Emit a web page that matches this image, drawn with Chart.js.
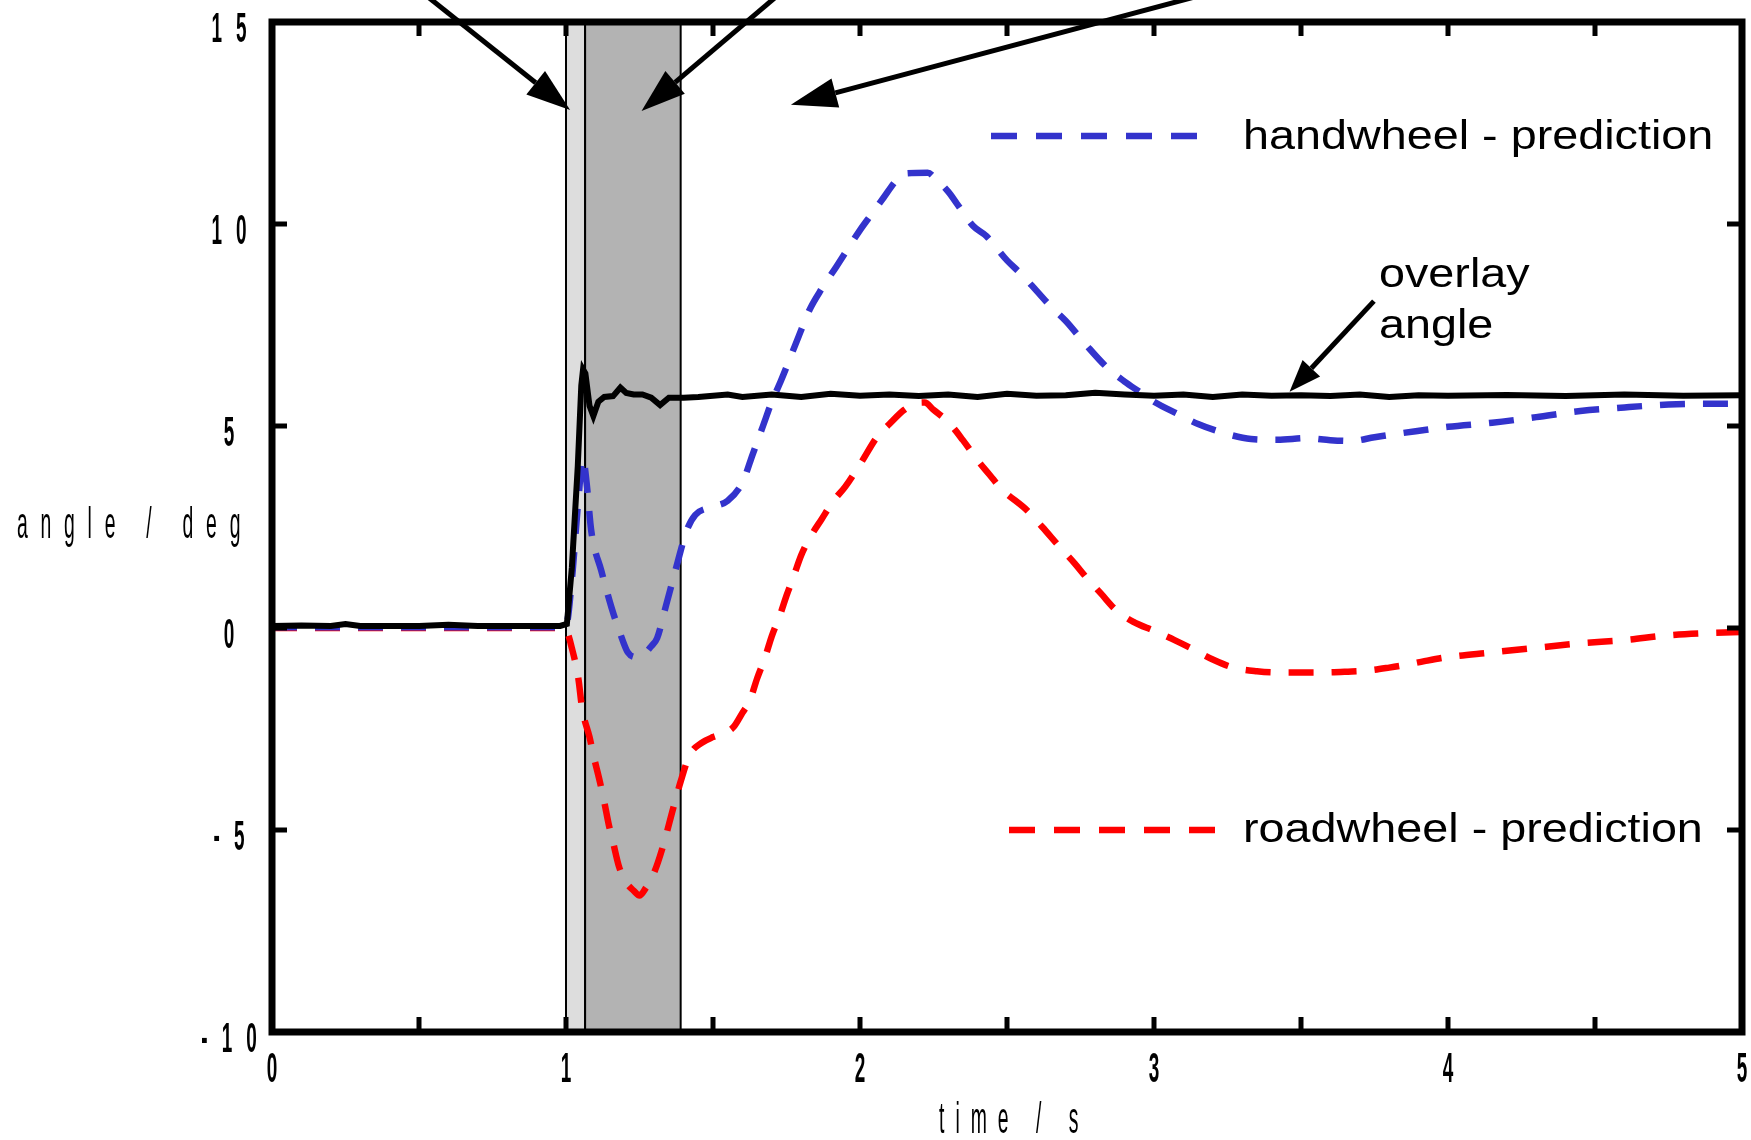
<!DOCTYPE html>
<html>
<head>
<meta charset="utf-8">
<title>angle / deg</title>
<script src="https://cdn.jsdelivr.net/npm/chart.js@4.4.1/dist/chart.umd.min.js"></script>
<style>
  html, body { margin: 0; padding: 0; background: #fff; overflow: hidden; }
  canvas { display: block; }
</style>
</head>
<body>
<canvas id="grafico" width="1751" height="1140"></canvas>
<script>
// Values (time in s, angle in deg)
const overlayTime  = [0, 0.1, 0.2, 0.25, 0.3, 0.4, 0.5, 0.6, 0.7, 0.8, 0.9, 0.98, 1.003, 1.02, 1.04, 1.052, 1.058, 1.066, 1.08, 1.093, 1.11, 1.13, 1.16, 1.185, 1.205, 1.23, 1.26, 1.29, 1.32, 1.35, 1.4, 1.45, 1.55, 1.6, 1.7, 1.8, 1.9, 2.0, 2.1, 2.2, 2.3, 2.4, 2.5, 2.6, 2.7, 2.8, 2.9, 3.0, 3.1, 3.2, 3.3, 3.4, 3.5, 3.6, 3.7, 3.8, 3.9, 4.0, 4.2, 4.4, 4.6, 4.8, 5.0];
const overlayAngle = [0.05, 0.06, 0.05, 0.1, 0.05, 0.05, 0.05, 0.08, 0.05, 0.05, 0.05, 0.05, 0.1, 1.5, 4.0, 6.0, 6.4, 6.3, 5.5, 5.25, 5.6, 5.72, 5.74, 5.95, 5.82, 5.78, 5.78, 5.7, 5.52, 5.7, 5.7, 5.72, 5.78, 5.72, 5.78, 5.72, 5.8, 5.75, 5.78, 5.74, 5.78, 5.72, 5.8, 5.75, 5.76, 5.82, 5.78, 5.75, 5.78, 5.72, 5.78, 5.75, 5.76, 5.74, 5.78, 5.72, 5.76, 5.75, 5.77, 5.74, 5.78, 5.75, 5.76];

const handTime  = [0, 0.5, 0.98, 1.0, 1.02, 1.04, 1.058, 1.07, 1.086, 1.12, 1.155, 1.185, 1.21, 1.24, 1.265, 1.29, 1.31, 1.34, 1.375, 1.41, 1.44, 1.5, 1.55, 1.6, 1.635, 1.67, 1.7, 1.73, 1.785, 1.83, 1.87, 1.92, 1.96, 2.0, 2.04, 2.08, 2.12, 2.15, 2.23, 2.26, 2.3, 2.33, 2.385, 2.43, 2.5, 2.55, 2.6, 2.65, 2.7, 2.77, 2.84, 2.9, 2.95, 3.0, 3.08, 3.15, 3.25, 3.33, 3.42, 3.52, 3.6, 3.67, 3.75, 3.83, 3.92, 4.0, 4.15, 4.3, 4.45, 4.6, 4.75, 4.9, 5.0];
const handAngle = [0.02, 0.02, 0.02, 0.05, 1.2, 3.0, 4.2, 3.6, 2.4, 1.42, 0.5, -0.15, -0.6, -0.72, -0.65, -0.45, -0.25, 0.55, 1.5, 2.4, 2.8, 3.0, 3.15, 3.6, 4.3, 5.0, 5.6, 6.1, 7.1, 7.9, 8.4, 8.95, 9.4, 9.85, 10.25, 10.65, 11.05, 11.25, 11.27, 11.1, 10.8, 10.5, 9.95, 9.7, 9.1, 8.75, 8.35, 7.95, 7.6, 7.0, 6.45, 6.1, 5.85, 5.6, 5.3, 5.05, 4.8, 4.68, 4.66, 4.7, 4.65, 4.63, 4.72, 4.81, 4.9, 4.98, 5.08, 5.22, 5.37, 5.46, 5.53, 5.55, 5.55];

const roadTime  = [0, 0.5, 0.98, 1.0, 1.02, 1.042, 1.055, 1.08, 1.095, 1.115, 1.13, 1.145, 1.16, 1.18, 1.205, 1.23, 1.25, 1.27, 1.3, 1.33, 1.365, 1.39, 1.42, 1.46, 1.5, 1.54, 1.57, 1.6, 1.625, 1.65, 1.677, 1.7, 1.728, 1.75, 1.773, 1.8, 1.83, 1.87, 1.91, 1.95, 2.0, 2.06, 2.1, 2.15, 2.19, 2.22, 2.25, 2.3, 2.35, 2.4, 2.44, 2.48, 2.57, 2.62, 2.68, 2.73, 2.77, 2.82, 2.87, 2.93, 3.0, 3.07, 3.134, 3.2, 3.27, 3.35, 3.42, 3.5, 3.58, 3.66, 3.73, 3.8, 3.85, 3.92, 4.0, 4.14, 4.3, 4.45, 4.6, 4.75, 4.9, 5.0];
const roadAngle = [0.0, 0.0, 0.0, -0.05, -0.5, -1.25, -2.0, -2.7, -3.2, -3.8, -4.3, -4.85, -5.3, -5.9, -6.3, -6.5, -6.62, -6.45, -6.05, -5.4, -4.45, -3.8, -3.15, -2.85, -2.7, -2.6, -2.45, -2.1, -1.8, -1.25, -0.73, -0.2, 0.32, 0.8, 1.25, 1.8, 2.24, 2.7, 3.15, 3.5, 4.05, 4.75, 5.05, 5.4, 5.56, 5.58, 5.4, 5.1, 4.65, 4.15, 3.8, 3.45, 2.9, 2.5, 2.0, 1.6, 1.25, 0.85, 0.45, 0.15, -0.07, -0.3, -0.53, -0.78, -0.98, -1.07, -1.1, -1.1, -1.1, -1.08, -1.05, -0.98, -0.92, -0.82, -0.72, -0.61, -0.49, -0.38, -0.3, -0.18, -0.12, -0.1];

// Shaded time windows
const bandStart = [1.0, 1.065];
const bandEnd   = [1.065, 1.39];

// Axis ticks and labels
const xTickValues = [0, 0.5, 1, 1.5, 2, 2.5, 3, 3.5, 4, 4.5, 5];
const xLabelValues = [0, 1, 2, 3, 4, 5];
const xTickLabels = ['0', '1', '2', '3', '4', '5'];
const yTickValues = [-10, -5, 0, 5, 10, 15];
const yTickLabels = ['- 1 0', '- 5', '0', '5', '1 0', '1 5'];

const seriesNames = ['overlay angle', 'handwheel - prediction', 'roadwheel - prediction'];
const BLUE = '#3333cc';
const RED = '#ff0000';
const FONT = '"Liberation Sans", Arial, sans-serif';

function toPoints(t, v) {
  return t.map((ti, i) => ({ x: ti, y: v[i] }));
}

// Text squeezed or stretched horizontally, like the original figure
function drawText(ctx, text, x, y, font, sx, spacing, align) {
  ctx.save();
  if (align === 'center') x += spacing * sx / 2;
  ctx.translate(x, y);
  ctx.scale(sx, 1);
  ctx.font = font + ' ' + FONT;
  ctx.letterSpacing = spacing + 'px';
  ctx.textAlign = align;
  ctx.textBaseline = 'alphabetic';
  ctx.fillStyle = '#000';
  ctx.fillText(text, 0, 0);
  ctx.restore();
}

function drawArrow(ctx, x1, y1, x2, y2, width, headLen, headHalf) {
  const ang = Math.atan2(y2 - y1, x2 - x1);
  const bx = x2 - headLen * Math.cos(ang);
  const by = y2 - headLen * Math.sin(ang);
  ctx.beginPath();
  ctx.moveTo(x1, y1);
  ctx.lineTo(bx, by);
  ctx.lineWidth = width;
  ctx.stroke();
  ctx.beginPath();
  ctx.moveTo(x2, y2);
  ctx.lineTo(bx + headHalf * Math.sin(ang), by - headHalf * Math.cos(ang));
  ctx.lineTo(bx - headHalf * Math.sin(ang), by + headHalf * Math.cos(ang));
  ctx.closePath();
  ctx.fill();
}

function legendSwatch(ctx, x1, x2, y, color) {
  ctx.save();
  ctx.strokeStyle = color;
  ctx.lineWidth = 6.5;
  ctx.lineCap = 'butt';
  ctx.setLineDash([26, 19]);
  ctx.beginPath();
  ctx.moveTo(x1, y);
  ctx.lineTo(x2, y);
  ctx.stroke();
  ctx.restore();
}

const decorPlugin = {
  id: 'decor',
  // gray windows behind the curves
  beforeDatasetsDraw(chart) {
    const { ctx, chartArea: a, scales: { x } } = chart;
    const fills = ['#dddddd', '#b3b3b3'];
    ctx.save();
    for (let i = 0; i < bandStart.length; i++) {
      const x1 = x.getPixelForValue(bandStart[i]);
      const x2 = x.getPixelForValue(bandEnd[i]);
      ctx.fillStyle = fills[i];
      ctx.fillRect(x1, a.top, x2 - x1, a.bottom - a.top);
      ctx.strokeStyle = '#000';
      ctx.lineWidth = 2;
      ctx.strokeRect(x1, a.top, x2 - x1, a.bottom - a.top);
    }
    ctx.restore();
  },
  // box, inward ticks and labels
  afterDatasetsDraw(chart) {
    const { ctx, chartArea: a, scales: { x, y } } = chart;
    ctx.save();
    ctx.strokeStyle = '#000';
    ctx.lineWidth = 7;
    ctx.lineJoin = 'miter';
    ctx.strokeRect(a.left, a.top, a.right - a.left, a.bottom - a.top);

    ctx.lineWidth = 5;
    ctx.beginPath();
    xTickValues.forEach(v => {
      const px = x.getPixelForValue(v);
      ctx.moveTo(px, a.bottom); ctx.lineTo(px, a.bottom - 15);
      ctx.moveTo(px, a.top); ctx.lineTo(px, a.top + 14);
    });
    yTickValues.forEach(v => {
      const py = y.getPixelForValue(v);
      ctx.moveTo(a.left, py); ctx.lineTo(a.left + 15, py);
      ctx.moveTo(a.right, py); ctx.lineTo(a.right - 15, py);
    });
    ctx.stroke();
    ctx.restore();

    xLabelValues.forEach((v, i) => {
      drawText(ctx, xTickLabels[i], x.getPixelForValue(v), a.bottom + 50, 'bold 43px', 0.44, 10, 'center');
    });
    yTickValues.forEach((v, i) => {
      drawText(ctx, yTickLabels[i], a.left - 43, y.getPixelForValue(v) + 20, 'bold 43px', 0.44, 10, 'center');
    });

    // axis titles
    drawText(ctx, 'angle / deg', 17, 538, '44px', 0.44, 29, 'left');
    drawText(ctx, 'time / s', 939, 1133, '44px', 0.44, 25, 'left');
  },
  // legend entries, annotation and arrows
  afterDraw(chart) {
    const { ctx, scales: { x, y } } = chart;
    legendSwatch(ctx, 991, 1205, 136, BLUE);
    drawText(ctx, seriesNames[1], 1243, 149, '41px', 1.14, 0, 'left');
    legendSwatch(ctx, 1009, 1222, 830, RED);
    drawText(ctx, seriesNames[2], 1243, 842, '41px', 1.14, 0, 'left');
    drawText(ctx, 'overlay', 1379, 287, '41px', 1.14, 0, 'left');
    drawText(ctx, 'angle', 1379, 338, '41px', 1.14, 0, 'left');

    ctx.save();
    ctx.strokeStyle = '#000';
    ctx.fillStyle = '#000';
    const px = v => x.getPixelForValue(v);
    const py = v => y.getPixelForValue(v);
    // arrows coming from the (cropped) captions above the plot
    drawArrow(ctx, px(0.527), py(15.64), px(1.014), py(12.82), 5, 44, 15);
    drawArrow(ctx, px(1.717), py(15.64), px(1.257), py(12.8), 5, 44, 15);
    drawArrow(ctx, px(3.149), py(15.64), px(1.765), py(12.95), 5, 46, 15);
    // overlay angle pointer
    drawArrow(ctx, px(3.748), py(8.09), px(3.461), py(5.85), 5, 32, 12);
    ctx.restore();
  }
};

document.addEventListener('DOMContentLoaded', function () {
  const ctx = document.getElementById('grafico').getContext('2d');
  new Chart(ctx, {
    type: 'line',
    data: {
      datasets: [
        {
          label: seriesNames[0],
          data: toPoints(overlayTime, overlayAngle),
          borderColor: '#000',
          borderWidth: 6,
          pointRadius: 0,
          tension: 0,
          order: 0
        },
        {
          label: seriesNames[1],
          data: toPoints(handTime, handAngle),
          borderColor: BLUE,
          borderWidth: 6.5,
          borderDash: [25, 18],
          borderCapStyle: 'butt',
          pointRadius: 0,
          cubicInterpolationMode: 'monotone',
          order: 1
        },
        {
          label: seriesNames[2],
          data: toPoints(roadTime, roadAngle),
          borderColor: RED,
          borderWidth: 6.5,
          borderDash: [25, 18],
          borderCapStyle: 'butt',
          pointRadius: 0,
          cubicInterpolationMode: 'monotone',
          order: 2
        }
      ]
    },
    options: {
      responsive: false,
      animation: false,
      devicePixelRatio: 1,
      layout: { padding: { left: 272, top: 22, right: 9, bottom: 108 } },
      plugins: {
        legend: { display: false },
        tooltip: { enabled: false }
      },
      scales: {
        x: { type: 'linear', min: 0, max: 5, display: false },
        y: { type: 'linear', min: -10, max: 15, display: false }
      }
    },
    plugins: [decorPlugin]
  });
});
</script>
</body>
</html>
